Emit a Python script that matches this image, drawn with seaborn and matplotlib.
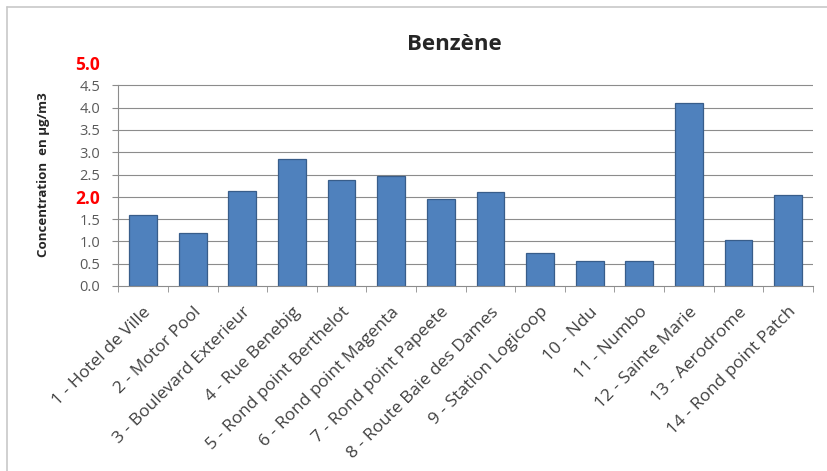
import matplotlib.pyplot as plt
import seaborn as sns
import numpy as np
from matplotlib.lines import Line2D

# Données : concentration de benzène par site
sites = ['1 - Hotel de Ville', '2 - Motor Pool', '3 - Boulevard Exterieur', '4 - Rue Benebig',
         '5 - Rond point Berthelot', '6 - Rond point Magenta', '7 - Rond point Papeete',
         '8 - Route Baie des Dames', '9 - Station Logicoop', '10 - Ndu', '11 - Numbo',
         '12 - Sainte Marie', '13 - Aerodrome', '14 - Rond point Patch']
concentration = [1.58, 1.19, 2.14, 2.84, 2.37, 2.46, 1.94, 2.10, 0.73, 0.56, 0.56, 4.10, 1.04, 2.03]
y_ticks = [0.0, 0.5, 1.0, 1.5, 2.0, 2.5, 3.0, 3.5, 4.0, 4.5, 5.0]

sns.set_style("white")
plt.rcParams['font.family'] = ['Open Sans', 'DejaVu Sans']

fig = plt.figure(figsize=(8.27, 4.71), dpi=100)
ax = fig.add_axes([0.143, 0.393, 0.84, 0.473])

sns.barplot(x=sites, y=concentration, color='#4F81BD', edgecolor='#385D8A',
            linewidth=0.9, width=0.56, saturation=1, ax=ax)

ax.set_ylim(0, 5.0)
ax.set_xlim(-0.5, len(sites) - 0.5)
ax.set_yticks(y_ticks)
ax.set_yticklabels([f'{v:.1f}' for v in y_ticks])
for v in y_ticks[1:-1]:
    ax.axhline(v, color='#8C8C8C', linewidth=0.8, zorder=0)

for lab, v in zip(ax.get_yticklabels(), y_ticks):
    if v in (2.0, 5.0):
        lab.set_color('red')
        lab.set_fontweight('bold')
        lab.set_fontsize(12.5)
    else:
        lab.set_color('#595959')
        lab.set_fontsize(10.5)

ax.tick_params(axis='y', length=4, color='#8C8C8C', direction='out', pad=9, left=True)
ax.yaxis.get_major_ticks()[-1].tick1line.set_visible(False)
ax.set_xticks(range(len(sites)))
ax.set_xticklabels(sites, rotation=45, ha='right', rotation_mode='anchor',
                   fontsize=12.5, color='#404040')
ax.tick_params(axis='x', length=0, pad=13)
ax.set_xticks(np.arange(-0.5, len(sites), 1.0), minor=True)
ax.tick_params(axis='x', which='minor', length=4, color='#8C8C8C', bottom=True)

for s in ['top', 'right']:
    ax.spines[s].set_visible(False)
ax.spines['left'].set_color('#8C8C8C')
ax.spines['bottom'].set_color('#8C8C8C')
ax.spines['left'].set_bounds(0, 4.5)

ax.set_ylabel('Concentration  en µg/m3', fontsize=9.5, fontweight='bold', color='#262626', labelpad=18)

fig.text(0.55, 0.905, 'Benzène', fontsize=16, fontweight='bold', color='#262626', ha='center', va='center')

# cadre du graphique
fig.add_artist(Line2D([0.008, 1.0], [0.985, 0.985], color='#C8C8C8', linewidth=1.2))
fig.add_artist(Line2D([0.008, 0.008], [0.0, 0.985], color='#C8C8C8', linewidth=1.2))

plt.savefig('out.png', dpi=100)
